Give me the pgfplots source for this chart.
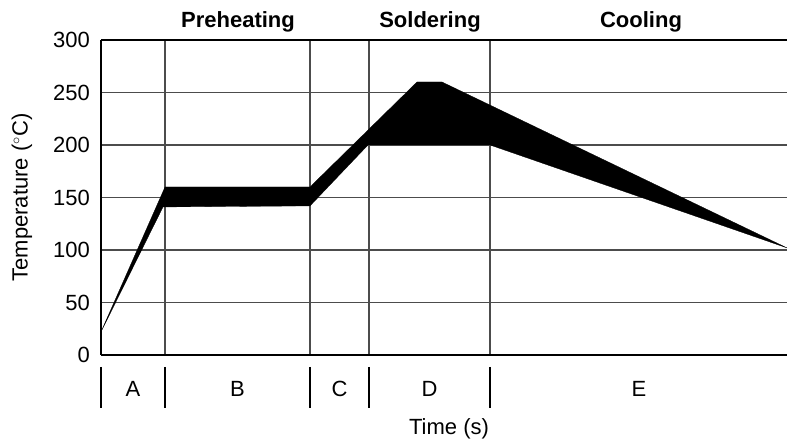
\documentclass[border=0pt]{standalone}
\usepackage{pgfplots}
\pgfplotsset{compat=1.18}
\usepackage{fontspec}
\setmainfont{Liberation Sans}
\begin{document}
\fontsize{22}{26}\selectfont
\begin{tikzpicture}
\useasboundingbox (0,0) rectangle (787pt,441pt);
\begin{axis}[
  at={(101pt,86pt)}, anchor=south west,
  scale only axis, width=686pt, height=315pt,
  xmin=0, xmax=686, ymin=0, ymax=300,
  axis x line*=box, axis y line*=left,
  axis line style={-, line width=2pt, black},
  every outer x axis line/.append style={-},
  every outer y axis line/.append style={-},
  xtick={64,209,268,389}, xticklabels={},
  ytick={0,50,100,150,200,250,300},
  yticklabels={0,50,100,150,200,250,300},
  major tick length=0pt,
  yticklabel style={inner sep=0pt, xshift=-11pt, font=\fontsize{22}{26}\selectfont},
  grid=major,
  major grid style={black!70, line width=1.3pt},
  clip=false,
]
\addplot[fill=black, draw=black, line width=0.3pt] coordinates {
  (0,22) (62,141) (209,142) (267,200) (389,200) (686,102)
  (341,260) (316,260) (209,160) (64,160) (0,22)
};
% segment separators below the axis
\draw[line width=1.5pt] (axis cs:0,-11.4) -- (axis cs:0,-50.5);
\draw[line width=1.5pt] (axis cs:64,-11.4) -- (axis cs:64,-50.5);
\draw[line width=1.5pt] (axis cs:209,-11.4) -- (axis cs:209,-50.5);
\draw[line width=1.5pt] (axis cs:268,-11.4) -- (axis cs:268,-50.5);
\draw[line width=1.5pt] (axis cs:389,-11.4) -- (axis cs:389,-50.5);
\node[anchor=base] at (axis cs:32,-40) {A};
\node[anchor=base] at (axis cs:136.5,-40) {B};
\node[anchor=base] at (axis cs:238.5,-40) {C};
\node[anchor=base] at (axis cs:328.5,-40) {D};
\node[anchor=base] at (axis cs:538,-40) {E};
\node[anchor=base] at (axis cs:348,-76) {Time (s)};
\node[anchor=base] at (axis cs:137,312) {\bfseries Preheating};
\node[anchor=base] at (axis cs:329,312) {\bfseries Soldering};
\node[anchor=base] at (axis cs:540,312) {\bfseries Cooling};
\node[rotate=90] at (axis cs:-79,150) {Temperature ($^\circ$C)};
\end{axis}
\end{tikzpicture}
\end{document}
